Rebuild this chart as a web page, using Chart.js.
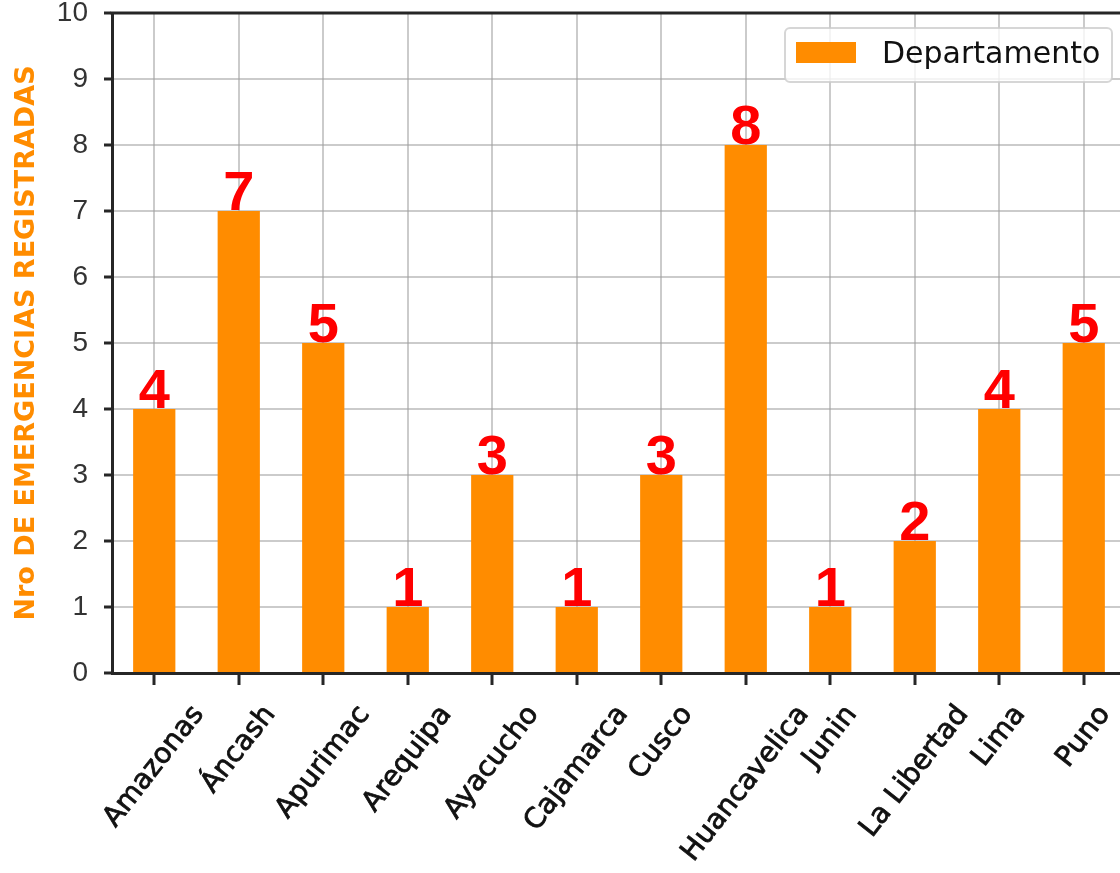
<!DOCTYPE html>
<html lang="es">
<head>
  <meta charset="UTF-8">
  <title>Emergencias por departamento</title>
  <style>
    * { margin: 0; padding: 0; box-sizing: border-box; }
    body { background: #fff; overflow: hidden; width: 1120px; height: 873px; }
    .wrap { width: 1130px; height: 873px; }
  </style>
  <script src="https://cdn.jsdelivr.net/npm/chart.js"></script>
</head>
<body>
  <div class="wrap">
    <canvas id="chart" width="1130" height="873"></canvas>
  </div>

  <script>
    // Data
    const departamentos = ['Amazonas', 'Áncash', 'Apurimac', 'Arequipa', 'Ayacucho', 'Cajamarca',
      'Cusco', 'Huancavelica', 'Junin', 'La Libertad', 'Lima', 'Puno'];
    const emergencias = [4, 7, 5, 1, 3, 1, 3, 8, 1, 2, 4, 5];
    const yTicks = [0, 1, 2, 3, 4, 5, 6, 7, 8, 9, 10];

    const ORANGE = '#ff8c00';
    const AXIS = '#262626';
    const GRID = 'rgba(160, 160, 160, 0.55)';

    // Rotated category labels, centred under each tick (matplotlib style)
    const xLabels = {
      id: 'xLabels',
      afterDraw(chart) {
        const { ctx, scales: { x } } = chart;
        const angle = 52 * Math.PI / 180;
        const h = 28;
        ctx.save();
        ctx.font = '28px "DejaVu Sans"';
        ctx.fillStyle = '#111';
        ctx.strokeStyle = '#111';
        ctx.lineWidth = 0.8;
        ctx.textAlign = 'center';
        ctx.textBaseline = 'middle';
        chart.data.labels.forEach((label, i) => {
          const w = ctx.measureText(label).width;
          const px = x.getPixelForTick(i);
          const py = 701 + (w * Math.sin(angle) + h * Math.cos(angle)) / 2;
          ctx.save();
          ctx.translate(px, py);
          ctx.rotate(-angle);
          ctx.fillText(label, 0, 0);
          ctx.strokeText(label, 0, 0);
          ctx.restore();
        });
        ctx.restore();
      }
    };

    // Red value labels over the bars, top spine and the legend box
    const extras = {
      id: 'extras',
      afterDraw(chart) {
        const { ctx, chartArea } = chart;

        // top spine
        ctx.save();
        ctx.strokeStyle = AXIS;
        ctx.lineWidth = 3;
        ctx.beginPath();
        ctx.moveTo(chartArea.left - 1.5, chartArea.top);
        ctx.lineTo(chartArea.right, chartArea.top);
        ctx.stroke();
        ctx.restore();

        // values
        const meta = chart.getDatasetMeta(0);
        ctx.save();
        ctx.font = 'bold 56px "Liberation Sans"';
        ctx.fillStyle = '#ff0000';
        ctx.textAlign = 'center';
        ctx.textBaseline = 'alphabetic';
        meta.data.forEach((bar, i) => {
          ctx.fillText(String(chart.data.datasets[0].data[i]), bar.x, bar.y - 1);
        });
        ctx.restore();

        // legend
        const bx = chartArea.right - 341, by = chartArea.top + 15, bw = 327, bh = 54;
        ctx.save();
        ctx.beginPath();
        ctx.roundRect(bx, by, bw, bh, 5);
        ctx.fillStyle = 'rgba(255, 255, 255, 0.8)';
        ctx.fill();
        ctx.strokeStyle = 'rgba(204, 204, 204, 0.8)';
        ctx.lineWidth = 2;
        ctx.stroke();
        ctx.fillStyle = ORANGE;
        ctx.fillRect(bx + 11, by + 14, 60, 21);
        ctx.fillStyle = '#111';
        ctx.font = '30px "DejaVu Sans"';
        ctx.textAlign = 'left';
        ctx.textBaseline = 'middle';
        ctx.fillText(chart.data.datasets[0].label, bx + 97, by + 27);
        ctx.restore();
      }
    };

    new Chart(document.getElementById('chart'), {
      type: 'bar',
      data: {
        labels: departamentos,
        datasets: [{
          label: 'Departamento',
          data: emergencias,
          backgroundColor: ORANGE,
          barPercentage: 0.5,
          categoryPercentage: 1.0
        }]
      },
      options: {
        responsive: false,
        animation: false,
        layout: { padding: { top: 13, right: 4, left: 0, bottom: 0 } },
        plugins: {
          legend: { display: false },
          tooltip: { enabled: false }
        },
        scales: {
          x: {
            z: 1,
            grid: {
              offset: false,
              color: GRID,
              lineWidth: 2,
              tickColor: AXIS,
              tickLength: 12,
              tickWidth: 3
            },
            border: { color: AXIS, width: 3 },
            ticks: { display: false },
            afterFit(s) { s.height = 200; }
          },
          y: {
            z: 1,
            min: 0,
            max: 10,
            afterBuildTicks(s) { s.ticks = yTicks.map(v => ({ value: v })); },
            grid: {
              color: GRID,
              lineWidth: 2,
              tickColor: AXIS,
              tickLength: 8,
              tickWidth: 3
            },
            border: { color: AXIS, width: 3 },
            ticks: {
              color: '#333',
              padding: 16,
              font: { family: '"Liberation Sans"', size: 28, lineHeight: 0.9 }
            },
            title: {
              display: true,
              text: 'Nro DE EMERGENCIAS REGISTRADAS',
              color: ORANGE,
              font: { family: '"DejaVu Sans"', size: 27, weight: 'bold' },
              padding: { top: 11, bottom: 0 }
            },
            afterFit(s) {
              s.width = 112;
              s.paddingTop = 0;
              s.paddingBottom = 0;
            }
          }
        }
      },
      plugins: [xLabels, extras]
    });
  </script>
</body>
</html>
